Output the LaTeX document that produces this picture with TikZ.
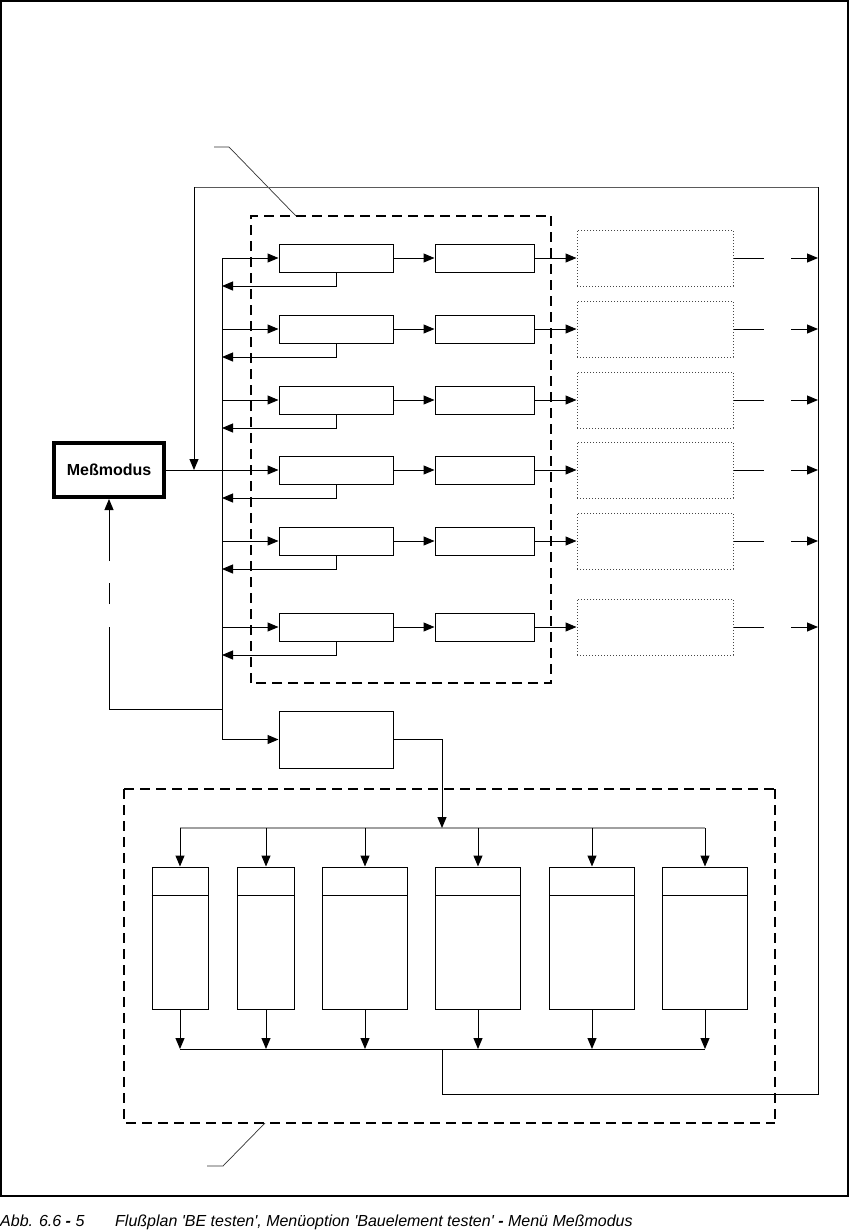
\documentclass[tikz,border=0pt]{standalone}
\usepackage{fontspec}
\newfontfamily\arial{Liberation Sans}
\usetikzlibrary{arrows.meta}
\definecolor{busgray}{RGB}{160,160,160}
\definecolor{topgray}{RGB}{90,90,90}
\definecolor{dotgray}{RGB}{70,70,70}
\tikzset{
  box/.style={draw, line width=1pt, inner sep=0pt, fill=white},
  dotbox/.style={draw=dotgray, line width=1pt, dash pattern=on 1pt off 2pt, inner sep=0pt},
  con/.style={line width=1pt},
  arr/.style={line width=1pt, -{Triangle[length=11pt,width=9pt]}},
  dashthick/.style={line width=2pt, dash pattern=on 10pt off 6pt},
  dashthin/.style={line width=1.2pt, dash pattern=on 10pt off 6pt},
  leader/.style={line width=0.7pt, draw=black!80},
  messbox/.style={draw, line width=4pt, inner sep=0pt, minimum width=110pt, minimum height=54pt,
    font=\arial\bfseries\fontsize{16pt}{18pt}\selectfont},
  caption/.style={inner sep=0pt, anchor=base west, font=\arial\itshape\fontsize{16pt}{18pt}\selectfont}
}
\begin{document}
\begin{tikzpicture}[x=1pt,y=-1pt]
\useasboundingbox (0,0) rectangle (852,1232);
\fill[white] (0,0) rectangle (852,1232);
% outer frame
\draw[line width=2pt] (1,1) rectangle (848,1196);

% dashed group 1
\coordinate (D1a) at (251,216);
\coordinate (D1b) at (551,216);
\coordinate (D1c) at (551,683);
\coordinate (D1d) at (251,683);
\draw[dashthick] (D1d) -- (D1a) -- (D1b);
\draw[dashthin] (D1b) -- (D1c) -- (D1d);
\coordinate (L1a) at (214,147);
\coordinate (L1b) at (229,147);
\coordinate (L1c) at (296,216);
\draw[leader] (L1a) -- (L1b) -- (L1c);

% dashed group 2
\coordinate (D2a) at (124,789);
\coordinate (D2b) at (775,789);
\coordinate (D2c) at (775,1123);
\coordinate (D2d) at (124,1123);
\draw[dashthick] (D2a) -- (D2d) -- (D2c);
\draw[dashthin, line width=1.5pt] (D2a) -- (D2b);
\draw[dashthin] (D2b) -- (D2c);
\coordinate (L2a) at (265,1123);
\coordinate (L2b) at (223,1166);
\coordinate (L2c) at (207,1166);
\draw[leader] (L2a) -- (L2b) -- (L2c);

% Messmodus
\node[messbox] (mess) at (109,470) {Meßmodus};

% bus
\coordinate (busE) at (222,739.5);
\coordinate (bus0) at (222,258);
\draw[con] (bus0) -- (busE);

% rows
\foreach \i/\r in {1/258,2/329,3/400,4/470,5/541,6/627} {
  \node[box, minimum width=114pt, minimum height=28pt] (a\i) at (336,\r) {};
  \node[box, minimum width=99pt, minimum height=28pt] (b\i) at (484.5,\r) {};
  \node[dotbox, minimum width=156pt, minimum height=56pt] (c\i) at (655,\r) {};
  \coordinate (bus\i) at (222,\r);
  \coordinate (ret\i) at (222,\r+28);
  \coordinate (o\i) at (764,\r);
  \coordinate (p\i) at (791,\r);
  \coordinate (q\i) at (818,\r);
  \draw[arr] (a\i.east) -- (b\i.west);
  \draw[arr] (b\i.east) -- (c\i.west);
  \draw[arr] (a\i.south) |- (ret\i);
  \draw[con] (c\i.east) -- (o\i);
  \draw[arr] (p\i) -- (q\i);
}
\foreach \i in {1,2,3,5,6} { \draw[arr] (bus\i) -- (a\i.west); }
\draw[arr] (mess.east) -- (a4.west);

% left feedback to Messmodus
\coordinate (lf1) at (222,709);
\coordinate (lf2) at (109,709);
\coordinate (g1) at (109,627);
\coordinate (g2) at (109,604);
\coordinate (g3) at (109,583);
\coordinate (g4) at (109,561);
\draw[con] (lf1) -- (lf2) -- (g1);
\draw[con] (g2) -- (g3);
\draw[arr] (g4) -- (mess.south);

% lower box
\node[box, minimum width=114pt, minimum height=57pt] (e) at (336,739.5) {};
\draw[arr] (busE) -- (e.west);

% bottom columns
\coordinate (t0) at (180,828);
\coordinate (t7) at (705,828);
\draw[line width=2pt, busgray] (t0) -- (t7);
\coordinate (k1) at (442,828);
\draw[arr] (e.east) -| (k1);
\foreach \j/\cx/\w in {1/180/56,2/266/57,3/365/85,4/478/85,5/592/85,6/705/85} {
  \node[box, minimum width=\w pt, minimum height=142pt] (d\j) at (\cx,938) {};
  \draw[con] ([yshift=-29pt]d\j.north west) -- ([yshift=-29pt]d\j.north east);
  \coordinate (t\j) at (\cx,828);
  \coordinate (u\j) at (\cx,1049);
  \draw[arr] (t\j) -- (d\j.north);
  \draw[arr] (d\j.south) -- (u\j);
}
\draw[con] (u1) -- (u6);

% big feedback loop
\coordinate (m1) at (442,1049);
\coordinate (fbR) at (818,1094);
\coordinate (fbT) at (818,187);
\coordinate (fbL) at (194,187);
\coordinate (fbD) at (194,470);
\draw[con] (m1) |- (fbR) -- (fbT);
\draw[line width=1pt, topgray] (fbT) -- (fbL);
\draw[arr] (fbL) -- (fbD);

% caption
\node[caption] (cap1) at (0,1226) {Abb. 6.6 {\bfseries -} 5};
\node[caption] (cap2) at (115,1226) {Flußplan 'BE testen', Menüoption 'Bauelement testen' {\bfseries -} Menü Meßmodus};
\end{tikzpicture}
\end{document}
